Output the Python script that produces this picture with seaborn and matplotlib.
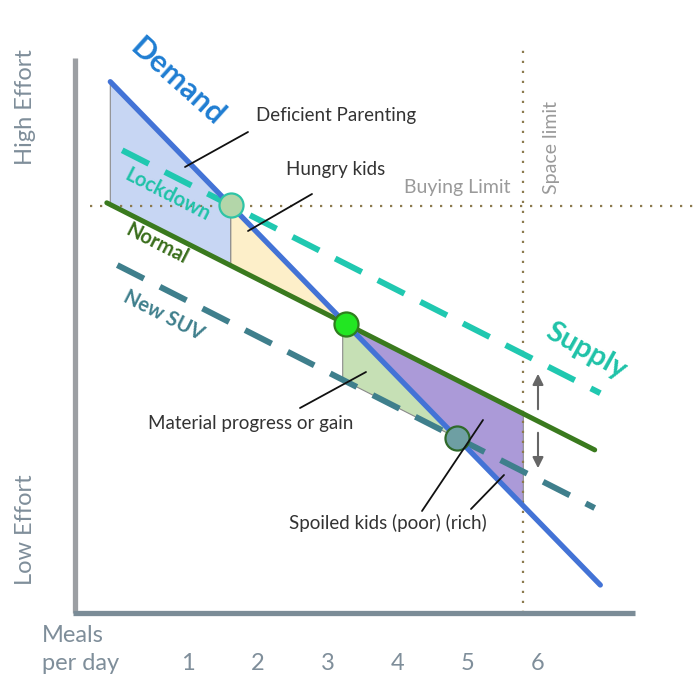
import numpy as np
import pandas as pd
import matplotlib
matplotlib.use("Agg")
import matplotlib.pyplot as plt
import seaborn as sns

# ---------------- data (x: meals per day, y: effort units) ----------------
demand_x = [-0.11, 6.89]
demand_y = [7.59, 0.40]
normal_x = [-0.16, 6.81]
normal_y = [5.86, 2.33]
lockdown_x = [0.06, 6.89]
lockdown_y = [6.61, 3.14]
newsuv_x = [-0.01, 6.81]
newsuv_y = [4.97, 1.50]
buying_limit_y = 5.81
space_limit_x = 5.79
green_start_x = 3.21
tick_values = [1, 2, 3, 4, 5, 6]
tick_labels = ["1", "2", "3", "4", "5", "6"]

sns.set_theme(style="white")
plt.rcParams["font.family"] = ["Lato", "DejaVu Sans"]

fig = plt.figure(figsize=(7, 7), dpi=100)
ax = fig.add_axes([0, 0, 1, 1])
ax.set_xlim(-118 / 70, 582 / 70)
ax.set_ylim(-87 / 70, 613 / 70)
ax.axis("off")


def P(xp, yp):
    return (xp - 118) / 70, (613 - yp) / 70


def at(xs, ys, x):
    return np.interp(x, xs, ys)


def cross(ax1, ay1, bx, by):
    m1 = (ay1[1] - ay1[0]) / (ax1[1] - ax1[0])
    m2 = (by[1] - by[0]) / (bx[1] - bx[0])
    c1 = ay1[0] - m1 * ax1[0]
    c2 = by[0] - m2 * bx[0]
    x = (c2 - c1) / (m1 - m2)
    return x, m1 * x + c1


lock_pt = cross(demand_x, demand_y, lockdown_x, lockdown_y)
norm_pt = cross(demand_x, demand_y, normal_x, normal_y)
suv_pt = cross(demand_x, demand_y, newsuv_x, newsuv_y)

edge = dict(edgecolor="#8a8a8a", linewidth=0.8)
# blue area
x0 = demand_x[0]
ax.fill([x0, lock_pt[0], lock_pt[0], x0],
        [demand_y[0], lock_pt[1], at(normal_x, normal_y, lock_pt[0]), at(normal_x, normal_y, x0)],
        facecolor="#c7d6f3", zorder=1, **edge)
# yellow area
ax.fill([lock_pt[0], norm_pt[0], lock_pt[0]],
        [lock_pt[1], norm_pt[1], at(normal_x, normal_y, lock_pt[0])],
        facecolor="#fdefc9", zorder=1, **edge)
# green area
ax.fill([green_start_x, suv_pt[0], green_start_x],
        [at(demand_x, demand_y, green_start_x), suv_pt[1], at(newsuv_x, newsuv_y, green_start_x)],
        facecolor="#c6e0b5", zorder=1, **edge)
# purple area
ax.fill([norm_pt[0], space_limit_x, space_limit_x],
        [norm_pt[1], at(normal_x, normal_y, space_limit_x), at(demand_x, demand_y, space_limit_x)],
        facecolor="#ab9ad8", zorder=1, **edge)

# dotted limits
dot = (0, (1, 3.5))
hx0, _ = P(90, 0)
hx1, _ = P(700, 0)
ax.plot([hx0, hx1], [buying_limit_y, buying_limit_y], color="#8c7a4e", lw=1.6, ls=dot, zorder=2)
_, vy0 = P(0, 45)
ax.plot([space_limit_x, space_limit_x], [0, vy0], color="#8c7a4e", lw=1.6, ls=dot, zorder=2)

# axis lines
ax.plot([P(75, 0)[0]] * 2, [0, P(0, 58)[1]], color="#9c9fa3", lw=3.8, solid_capstyle="butt", zorder=3)
ax.plot([P(73, 0)[0], P(635, 0)[0]], [0, 0], color="#7b8c97", lw=3.8, solid_capstyle="butt", zorder=3)

# supply/demand lines
sns.lineplot(x=newsuv_x, y=newsuv_y, ax=ax, color="#3f7f8c", lw=4.3,
             linestyle=(0, (5, 3.0)), dash_capstyle="butt", zorder=4)
sns.lineplot(x=lockdown_x, y=lockdown_y, ax=ax, color="#20c8b0", lw=4.3,
             linestyle=(0, (5, 3.0)), dash_capstyle="butt", zorder=4)
sns.lineplot(x=normal_x, y=normal_y, ax=ax, color="#3a7a1e", lw=3.6, zorder=5)
sns.lineplot(x=demand_x, y=demand_y, ax=ax, color="#4373d6", lw=3.8, zorder=5)

# equilibrium points
pts = pd.DataFrame({"x": [lock_pt[0], norm_pt[0], suv_pt[0]],
                    "y": [lock_pt[1], norm_pt[1], suv_pt[1]]})
ax.scatter(pts.x[:1], pts.y[:1], s=300, facecolor="#b3d6a9", edgecolor="#2ec4a6", lw=1.6, zorder=6)
ax.scatter(pts.x[1:2], pts.y[1:2], s=300, facecolor="#22e622", edgecolor="#2f7d1e", lw=1.6, zorder=6)
ax.scatter(pts.x[2:], pts.y[2:], s=300, facecolor="#6e9fa3", edgecolor="#2f6a2a", lw=1.6, zorder=6)

# arrows
ap = dict(arrowstyle="-|>", color="#666666", lw=1.5, mutation_scale=16)
ax.annotate("", xy=P(538, 371), xytext=P(538, 412), arrowprops=ap, zorder=6)
ax.annotate("", xy=P(538, 471), xytext=P(538, 430), arrowprops=ap, zorder=6)

# curve labels
def T(xp, yp, s, **kw):
    ax.text(*P(xp, yp), s, ha="center", va="center", rotation_mode="anchor", zorder=7, **kw)

T(177, 82, "Demand", color="#1f7dd2", fontsize=22, fontweight="bold", rotation=-42)
T(168, 195, "Lockdown", color="#1fc2a8", fontsize=14.5, fontweight="bold", rotation=-27)
T(157, 244, "Normal", color="#3a6e1c", fontsize=14.5, fontweight="bold", rotation=-27)
T(164, 315, "New SUV", color="#3f7f8c", fontsize=14.5, fontweight="bold", rotation=-27)
T(586, 351, "Supply", color="#1fc2a8", fontsize=21, fontweight="bold", rotation=-29)

# annotations
def L(xa, ya, xb, yb):
    a, b = P(xa, ya), P(xb, yb)
    ax.plot([a[0], b[0]], [a[1], b[1]], color="#111111", lw=1.3, zorder=7)

fs = 13.5
ax.text(*P(256, 116), "Deficient Parenting", ha="left", va="center", fontsize=fs, color="#333333")
L(185, 167, 248, 132)
ax.text(*P(286, 170), "Hungry kids", ha="left", va="center", fontsize=fs, color="#333333")
L(248, 231, 312, 194)
ax.text(*P(148, 424), "Material progress or gain", ha="left", va="center", fontsize=fs, color="#333333")
L(300, 408, 366, 372)
ax.text(*P(289, 523), "Spoiled kids (poor) (rich)", ha="left", va="center", fontsize=fs, color="#333333")
L(422, 511, 483, 420)
L(471, 509, 504, 475)

ax.text(*P(510, 187), "Buying Limit", ha="right", va="center", fontsize=14, color="#9a9a9a")
ax.text(*P(552, 148), "Space limit", ha="center", va="center", rotation=90, fontsize=14, color="#9a9a9a")

# axis texts
axc = "#7f8e9a"
ax.text(*P(25, 107), "High Effort", ha="center", va="center", rotation=90, fontsize=17, color=axc)
ax.text(*P(25, 530), "Low Effort", ha="center", va="center", rotation=90, fontsize=17, color=axc)
ax.text(*P(42, 635), "Meals", ha="left", va="center", fontsize=17, color=axc)
ax.text(*P(42, 663), "per day", ha="left", va="center", fontsize=17, color=axc)
for v, lab in zip(tick_values, tick_labels):
    ax.text(v, P(0, 663)[1], lab, ha="center", va="center", fontsize=17, color=axc)

fig.savefig("out.png", dpi=100, facecolor="white")
